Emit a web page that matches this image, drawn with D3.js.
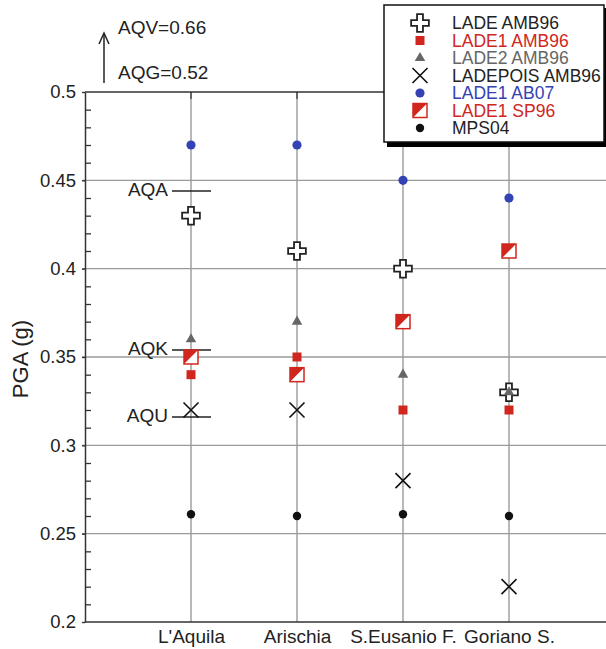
<!DOCTYPE html>
<html>
<head>
<meta charset="utf-8">
<script src="https://cdn.jsdelivr.net/npm/d3@7"></script>
<style>
  body { margin: 0; background: #fff; }
  svg { display: block; font-family: "Liberation Sans", Arial, sans-serif; }
</style>
</head>
<body>
<svg id="chart" width="606" height="649"></svg>
<script>
const sites = ["L'Aquila", "Arischia", "S.Eusanio F.", "Goriano S."];

const ladeAmb96 = [0.43, 0.41, 0.40, 0.33];
const lade1Amb96 = [0.34, 0.35, 0.32, 0.32];
const lade2Amb96 = [0.36, 0.37, 0.34, 0.33];
const ladepoisAmb96 = [0.32, 0.32, 0.28, 0.22];
const lade1Ab07 = [0.47, 0.47, 0.45, 0.44];
const lade1Sp96 = [0.35, 0.34, 0.37, 0.41];
const mps04 = [0.261, 0.26, 0.261, 0.26];

const seriesNames = ['LADE AMB96', 'LADE1 AMB96', 'LADE2 AMB96', 'LADEPOIS AMB96', 'LADE1 AB07', 'LADE1 SP96', 'MPS04'];

// recording stations drawn next to the L'Aquila column
const stationNames = ['AQA', 'AQK', 'AQU'];
const stationPGA = [0.444, 0.354, 0.316];
// stations off the top of the scale
const offScaleLabels = ['AQV=0.66', 'AQG=0.52'];

const yTicks = [0.2, 0.25, 0.3, 0.35, 0.4, 0.45, 0.5];

const red = '#d0261e', blue = '#3442b4', grey = '#666';

const svg = d3.select('#chart');
const plotLeft = 85, plotTop = 92, plotBottom = 622, plotRight = 615;

const x = d3.scalePoint().domain(sites).range([plotLeft, plotRight]).padding(1);
const y = d3.scaleLinear().domain([0.2, 0.5]).range([plotBottom, plotTop]);

// grid
svg.append('g').selectAll('line')
  .data(yTicks.filter(t => t > 0.2 && t < 0.5))
  .join('line')
  .attr('x1', plotLeft - 3).attr('x2', 606)
  .attr('y1', d => y(d)).attr('y2', d => y(d))
  .attr('stroke', '#9a9a9a').attr('stroke-width', 1.4);

svg.append('g').selectAll('line')
  .data(sites)
  .join('line')
  .attr('x1', d => x(d)).attr('x2', d => x(d))
  .attr('y1', plotTop).attr('y2', plotBottom)
  .attr('stroke', '#9a9a9a').attr('stroke-width', 1.4);

// frame + ticks
svg.append('g').selectAll('line')
  .data(sites)
  .join('line')
  .attr('x1', d => x(d)).attr('x2', d => x(d))
  .attr('y1', plotTop).attr('y2', plotTop + 7)
  .attr('stroke', '#444').attr('stroke-width', 1.4);

svg.append('line')
  .attr('x1', plotLeft).attr('x2', 606).attr('y1', plotTop).attr('y2', plotTop)
  .attr('stroke', '#333').attr('stroke-width', 1.5);

const yAxis = svg.append('g')
  .attr('transform', `translate(${plotLeft},0)`)
  .call(d3.axisLeft(y).tickValues(yTicks).tickFormat(d3.format('')).tickSize(3).tickPadding(6).tickSizeOuter(0));
yAxis.select('.domain').attr('stroke', '#333').attr('stroke-width', 1.5);
yAxis.selectAll('.tick line').attr('stroke', '#333').attr('stroke-width', 1.4);
yAxis.selectAll('text').attr('font-size', 18.5).attr('fill', '#222').attr('font-family', null);

const minor = d3.range(0.21, 0.5, 0.01).filter(v => Math.abs(v * 20 - Math.round(v * 20)) > 0.01);
const yMinor = svg.append('g')
  .attr('transform', `translate(${plotLeft},0)`)
  .call(d3.axisLeft(y).tickValues(minor).tickFormat('').tickSize(-6).tickSizeOuter(0));
yMinor.select('.domain').remove();
yMinor.selectAll('.tick line').attr('stroke', '#333').attr('stroke-width', 1.3);

const xAxis = svg.append('g')
  .attr('transform', `translate(0,${plotBottom})`)
  .call(d3.axisBottom(x).tickSize(0).tickPadding(8));
xAxis.select('.domain').attr('d', `M${plotLeft},0H606`).attr('stroke', '#333').attr('stroke-width', 1.5);
xAxis.selectAll('text').attr('font-size', 19).attr('fill', '#222').attr('font-family', null);

svg.append('text')
  .attr('transform', `translate(28,${(y(0.35) + 2)}) rotate(-90)`)
  .attr('text-anchor', 'middle')
  .attr('font-size', 22)
  .attr('fill', '#222')
  .text('PGA (g)');

// station annotations
const x0 = x(sites[0]);
stationNames.forEach((name, i) => {
  const yy = y(stationPGA[i]);
  svg.append('line')
    .attr('x1', x0 - 19).attr('x2', x0 + 20)
    .attr('y1', yy).attr('y2', yy)
    .attr('stroke', '#222').attr('stroke-width', 1.5);
  svg.append('text')
    .attr('x', x0 - 23).attr('y', yy + 5)
    .attr('text-anchor', 'end')
    .attr('font-size', 19).attr('fill', '#222')
    .text(name);
});

svg.append('line')
  .attr('x1', 104).attr('x2', 104).attr('y1', plotTop - 9).attr('y2', 34)
  .attr('stroke', '#222').attr('stroke-width', 1.5);
svg.append('path')
  .attr('d', 'M99,44L104,33L109,44')
  .attr('fill', 'none').attr('stroke', '#222').attr('stroke-width', 1.5);
offScaleLabels.forEach((t, i) => {
  svg.append('text')
    .attr('x', 118).attr('y', 34 + i * 45)
    .attr('font-size', 19).attr('fill', '#222')
    .text(t);
});

// marker drawers
function plusMark(g) {
  g.append('path').attr('d', d3.symbol(d3.symbolCross, 175)())
    .attr('fill', '#fff').attr('stroke', '#222').attr('stroke-width', 1.8);
}
function squareMark(g) {
  g.append('path').attr('d', d3.symbol(d3.symbolSquare, 81)()).attr('fill', red);
}
function triangleMark(g) {
  g.append('path').attr('d', d3.symbol(d3.symbolTriangle, 48)()).attr('fill', grey);
}
function crossMark(g) {
  g.append('path').attr('d', 'M-7.5,-7.5L7.5,7.5M-7.5,7.5L7.5,-7.5')
    .attr('stroke', '#111').attr('stroke-width', 1.6);
}
function blueDot(g) {
  g.append('circle').attr('r', 4.6).attr('fill', blue);
}
function halfSquare(g) {
  g.append('rect').attr('x', -7).attr('y', -7).attr('width', 14).attr('height', 14)
    .attr('fill', '#fff').attr('stroke', red).attr('stroke-width', 1.5);
  g.append('path').attr('d', 'M-7,-7L7,-7L-7,7Z').attr('fill', red);
}
function blackDot(g) {
  g.append('circle').attr('r', 4.2).attr('fill', '#111');
}

const series = [
  { name: seriesNames[0], values: ladeAmb96, draw: plusMark, color: '#222' },
  { name: seriesNames[1], values: lade1Amb96, draw: squareMark, color: red },
  { name: seriesNames[2], values: lade2Amb96, draw: triangleMark, color: grey },
  { name: seriesNames[3], values: ladepoisAmb96, draw: crossMark, color: '#222' },
  { name: seriesNames[4], values: lade1Ab07, draw: blueDot, color: blue },
  { name: seriesNames[5], values: lade1Sp96, draw: halfSquare, color: red },
  { name: seriesNames[6], values: mps04, draw: blackDot, color: '#222' }
];

series.forEach(s => {
  s.values.forEach((v, i) => {
    const g = svg.append('g').attr('transform', `translate(${x(sites[i])},${y(v)})`);
    s.draw(g);
  });
});

// legend
const lg = svg.append('g');
lg.append('rect').attr('x', 387).attr('y', 8).attr('width', 222).attr('height', 139).attr('fill', '#000');
lg.append('rect').attr('x', 384).attr('y', 5).attr('width', 220).attr('height', 137)
  .attr('fill', '#fff').attr('stroke', '#111').attr('stroke-width', 1.5);
series.forEach((s, i) => {
  const yy = 23 + i * 17.5;
  s.draw(lg.append('g').attr('transform', `translate(420,${yy})`));
  lg.append('text')
    .attr('x', 452).attr('y', yy + 6)
    .attr('font-size', 17.5).attr('fill', s.color)
    .text(s.name);
});
</script>
</body>
</html>
